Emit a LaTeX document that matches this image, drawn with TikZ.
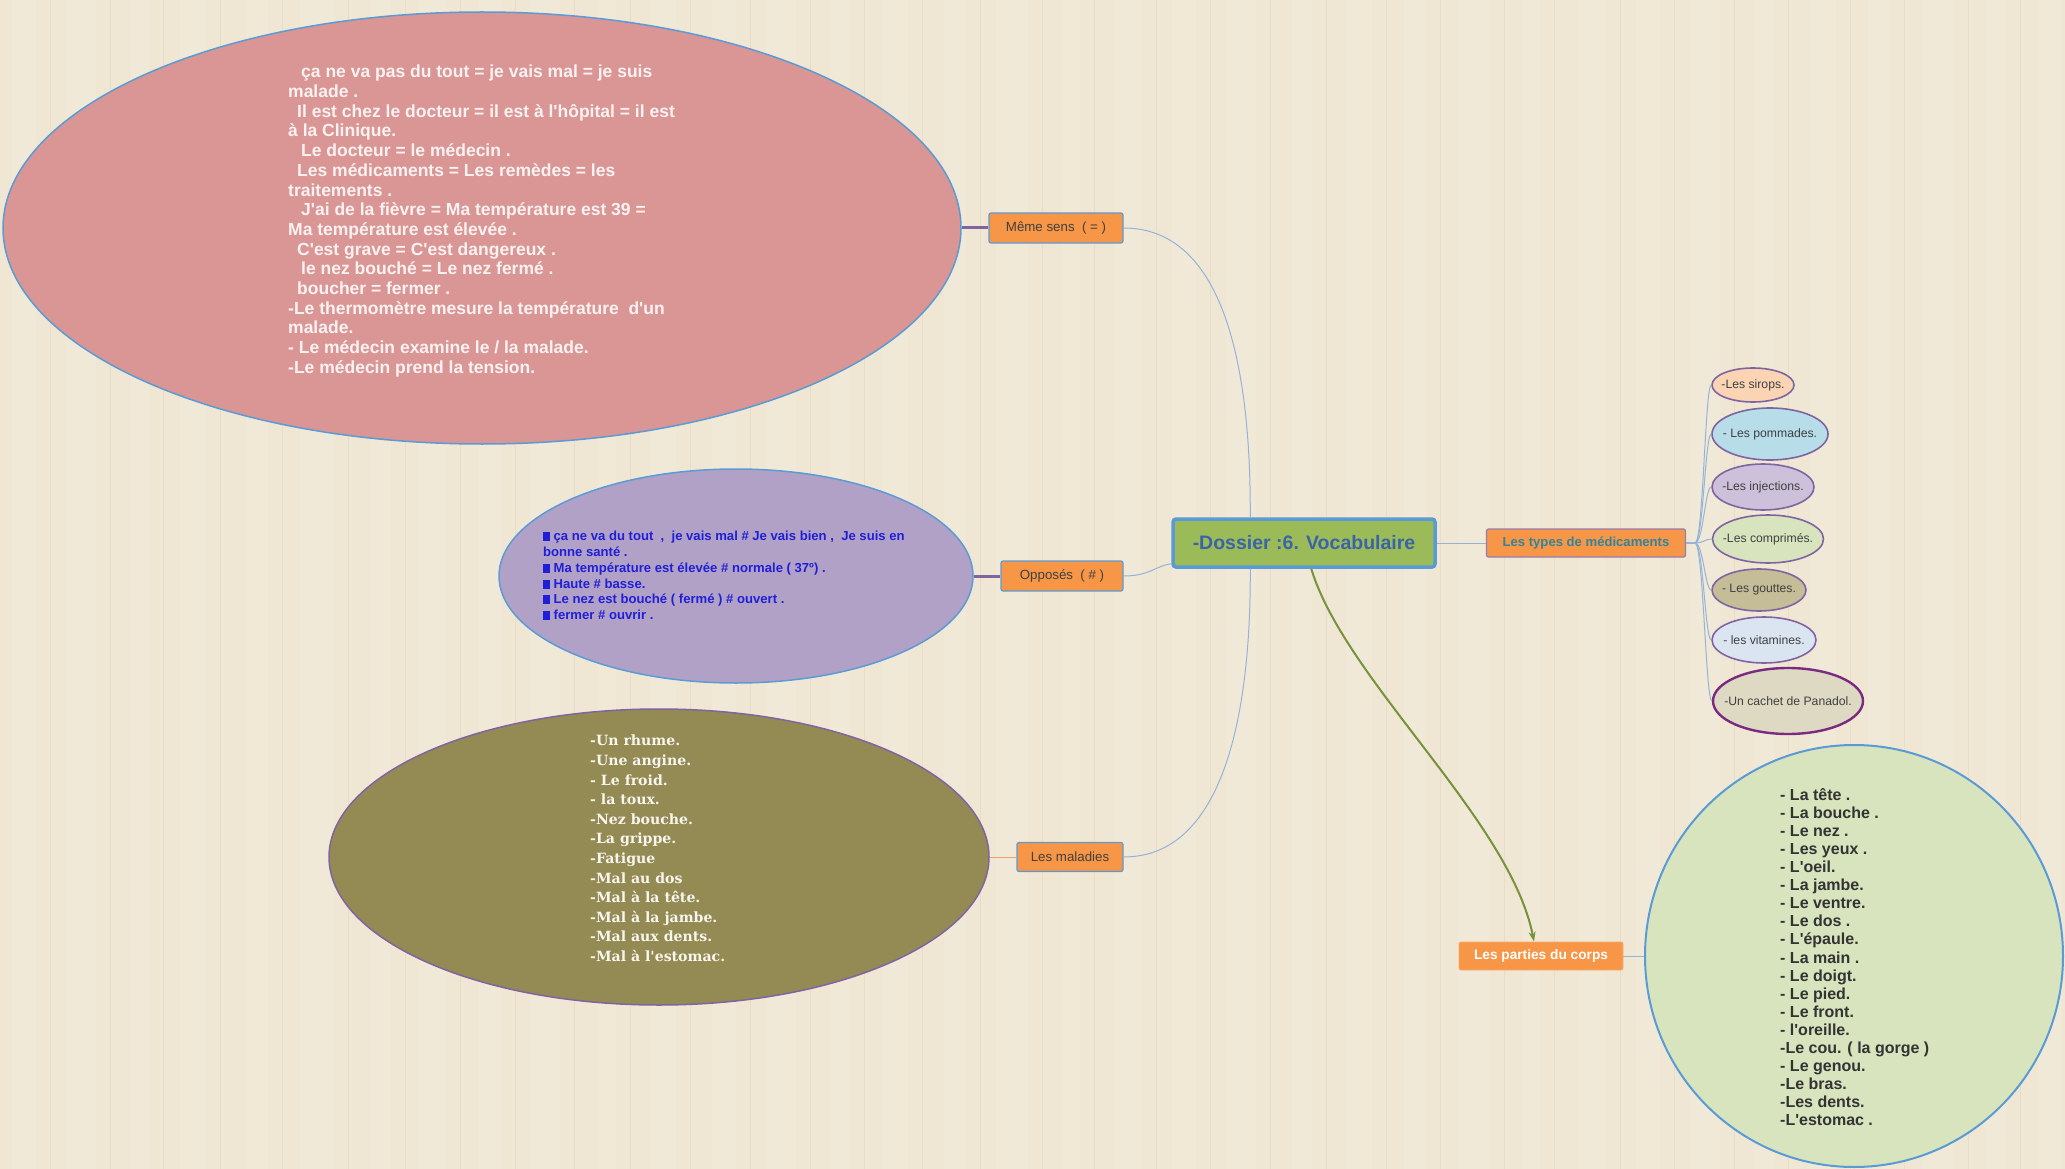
\documentclass[tikz,border=0pt]{standalone}
\usepackage{fontspec}
\newfontfamily\ls{Liberation Sans}
\newfontfamily\dserif{DejaVu Serif}
\usetikzlibrary{shapes.geometric,arrows.meta}
\definecolor{bg}{HTML}{EFE7D4}
\definecolor{bgband}{HTML}{F1E9D8}
\definecolor{bgline}{HTML}{E8DEC8}
\definecolor{pinkfill}{HTML}{D99694}
\definecolor{purpfill}{HTML}{B2A1C7}
\definecolor{olivefill}{HTML}{948A54}
\definecolor{greenfill}{HTML}{D7E4BD}
\definecolor{orangefill}{HTML}{F79646}
\definecolor{bordblue}{HTML}{5B9BD5}
\definecolor{bordpurp}{HTML}{8064A2}
\definecolor{linkblue}{HTML}{95B3D7}
\definecolor{linkorange}{HTML}{F0A070}
\definecolor{centfill}{HTML}{9BBB59}
\definecolor{centtext}{HTML}{3A64A6}
\definecolor{typetext}{HTML}{31849B}
\definecolor{labtext}{HTML}{404040}
\definecolor{bluetext}{HTML}{1F1FD8}
\definecolor{greenarrow}{HTML}{76923C}
\definecolor{panbord}{HTML}{7A2A80}
\definecolor{fsir}{HTML}{FBD4B4}
\definecolor{fpom}{HTML}{B7DDE8}
\definecolor{finj}{HTML}{CCC0DA}
\definecolor{fcom}{HTML}{D7E4BD}
\definecolor{fgou}{HTML}{C4BD97}
\definecolor{fvit}{HTML}{DBE5F1}
\definecolor{fpan}{HTML}{DDD9C3}
\newcommand\sqb{\rule[-0.5pt]{6.5pt}{9pt}\hspace{4pt}}
\tikzset{
  bigell/.style={ellipse, inner sep=0pt, line width=1.5pt},
  labbox/.style={rectangle, rounded corners=2pt, fill=orangefill, draw=bordblue, line width=1.2pt,
     text=labtext, font=\ls\fontsize{13.3}{15}\selectfont, minimum height=30pt, inner sep=0pt},
  medell/.style={ellipse, draw=bordpurp, line width=1.6pt, inner sep=0pt},
  medtxt/.style={inner sep=0pt, text=labtext, font=\ls\fontsize{12.2}{14}\selectfont},
  purpline/.style={draw=bordpurp, line width=3pt},
  blueline/.style={draw=linkblue, line width=1pt},
  bodytext/.style={anchor=north west, inner sep=0pt, align=left}
}
\begin{document}
\begin{tikzpicture}[x=1pt,y=-1pt]
\fill[bg] (0,0) rectangle (2065,1169);
\useasboundingbox (0,0) rectangle (2065,1169);
\foreach \x/\w in {12/24,66/30,131/18,180/26,246/22,300/34,371/20,418/28,479/22,530/30,598/18,650/26,712/24,766/30,830/20,882/26,944/22,996/32,1062/18,1114/28,1172/24,1226/30,1292/20,1346/26,1404/22,1458/32,1522/18,1578/28,1636/24,1690/30,1754/20,1810/26,1868/22,1922/32,1986/20,2038/24}{
  \fill[bgband] (\x,0) rectangle (\x+\w,1169);
  \draw[bgline, line width=1pt] (\x+\w+14,0) -- (\x+\w+14,1169);
}

% big ellipses
\node[bigell, draw=bordblue, fill=pinkfill, minimum width=958pt, minimum height=432pt] (pink) at (482,228) {};
\node[bigell, draw=bordblue, fill=purpfill, minimum width=474pt, minimum height=214pt] (purp) at (736,576) {};
\node[bigell, draw=bordpurp, fill=olivefill, minimum width=660pt, minimum height=296pt] (olive) at (659,857) {};
\node[bigell, draw=bordblue, line width=2pt, fill=greenfill, minimum width=418pt, minimum height=422pt] (circ) at (1854,956) {};

% texts in ellipses
\node[bodytext, text={rgb,255:red,252;green,242;blue,242}, font=\ls\bfseries\fontsize{17.5}{19.7}\selectfont] (pinktxt) at (288,65) {%
\hspace{13pt}ça ne va pas du tout = je vais mal = je suis\\
malade .\\
\hspace{9pt}Il est chez le docteur = il est à l'hôpital = il est\\
à la Clinique.\\
\hspace{13pt}Le docteur = le médecin .\\
\hspace{9pt}Les médicaments = Les remèdes = les\\
traitements .\\
\hspace{13pt}J'ai de la fièvre = Ma température est 39 =\\
Ma température est élevée .\\
\hspace{9pt}C'est grave = C'est dangereux .\\
\hspace{13pt}le nez bouché = Le nez fermé .\\
\hspace{9pt}boucher = fermer .\\
-Le thermomètre mesure la température\ \ d'un\\
malade.\\
- Le médecin examine le / la malade.\\
-Le médecin prend la tension.};

\node[bodytext, text=bluetext, font=\ls\bfseries\fontsize{13.1}{15.8}\selectfont] (purptxt) at (543,531) {%
\sqb ça ne va du tout\ \ ,\ \ je vais mal \# Je vais bien ,\ \ Je suis en\\
bonne santé .\\
\sqb Ma température est élevée \# normale ( 37º) .\\
\sqb Haute \# basse.\\
\sqb Le nez est bouché ( fermé ) \# ouvert .\\
\sqb fermer \# ouvrir .};

\node[bodytext, text={rgb,255:red,248;green,246;blue,238}, font=\dserif\bfseries\fontsize{14.1}{19.6}\selectfont] (olivetxt) at (590,735) {%
-Un rhume.\\
-Une angine.\\
- Le froid.\\
- la toux.\\
-Nez bouche.\\
-La grippe.\\
-Fatigue\\
-Mal au dos\\
-Mal à la tête.\\
-Mal à la jambe.\\
-Mal aux dents.\\
-Mal à l'estomac.};

\node[bodytext, text={rgb,255:red,51;green,51;blue,51}, font=\ls\bfseries\fontsize{16}{18.1}\selectfont] (circtxt) at (1780,788) {%
- La tête .\\
- La bouche .\\
- Le nez .\\
- Les yeux .\\
- L'oeil.\\
- La jambe.\\
- Le ventre.\\
- Le dos .\\
- L'épaule.\\
- La main .\\
- Le doigt.\\
- Le pied.\\
- Le front.\\
- l'oreille.\\
-Le cou. ( la gorge )\\
- Le genou.\\
-Le bras.\\
-Les dents.\\
-L'estomac .};

% label boxes
\node[labbox, minimum width=134pt] (meme) at (1056,228) {Même sens\ \ ( = )};
\node[labbox, minimum width=122pt] (opp) at (1062,576) {Opposés\ \ ( \# )};
\node[labbox, minimum width=106pt, minimum height=29pt] (mal) at (1070,857) {Les maladies};
\node[rectangle, rounded corners=3pt, fill=centfill, draw=bordblue, line width=3.5pt, minimum width=262pt, minimum height=48pt,
   text=centtext, font=\ls\bfseries\fontsize{19.5}{22}\selectfont] (central) at (1304,543) {-Dossier :6. Vocabulaire};
\node[rectangle, rounded corners=2pt, fill=orangefill, draw={rgb,255:red,150;green,125;blue,175}, line width=1.2pt,
   minimum width=199pt, minimum height=28pt, inner sep=0pt, text=typetext, font=\ls\bfseries\fontsize{13.1}{15}\selectfont] (types) at (1586,543) {Les types de médicaments};
\node[rectangle, rounded corners=2pt, fill=orangefill, draw={rgb,255:red,250;green,170;blue,110}, line width=0.8pt,
   minimum width=164pt, minimum height=28pt, inner sep=0pt, text=white, font=\ls\bfseries\fontsize{13.7}{15}\selectfont] (parties) at (1541,956) {Les parties du corps};

% medicament ellipses
\node[medell, fill=fsir, minimum width=82pt, minimum height=34pt, label={[medtxt]center:-Les sirops.}] (m1) at (1753,385) {};
\node[medell, fill=fpom, minimum width=116pt, minimum height=52pt, label={[medtxt]center:- Les pommades.}] (m2) at (1770,434) {};
\node[medell, fill=finj, minimum width=102pt, minimum height=46pt, label={[medtxt]center:-Les injections.}] (m3) at (1763,487) {};
\node[medell, fill=fcom, minimum width=111pt, minimum height=48pt, label={[medtxt]center:-Les comprimés.}] (m4) at (1768,539) {};
\node[medell, fill=fgou, minimum width=94pt, minimum height=42pt, label={[medtxt]center:- Les gouttes.}] (m5) at (1759,590) {};
\node[medell, fill=fvit, minimum width=104pt, minimum height=46pt, label={[medtxt]center:- les vitamines.}] (m6) at (1764,640) {};
\node[medell, fill=fpan, draw=panbord, line width=2.4pt, minimum width=150pt, minimum height=66pt, label={[medtxt]center:-Un cachet de Panadol.}] (m7) at (1788,701) {};

% connectors
\draw[purpline] (pink.east) -- (meme.west);
\draw[purpline] (purp.east) -- (opp.west);
\draw[draw=linkorange, line width=1pt] (olive.east) -- (mal.west);
\draw[blueline] (meme.east) .. controls (1225,228) and (1251,370) .. ([xshift=79pt]central.north west);
\draw[blueline] (opp.east) .. controls (1150,576) and (1155,566) .. ([yshift=5pt]central.south west);
\draw[blueline] (mal.east) .. controls (1225,857) and (1251,710) .. ([xshift=79pt]central.south west);
\draw[blueline] (central.east) -- (types.west);
\draw[blueline] (parties.east) -- (circ.west);
\foreach \m in {m1,m2,m3,m4,m5,m6,m7}{
  \draw[blueline] (types.east) -- ++(9,0) .. controls +(8,0) and +(-6,0) .. (\m.west);
}
\draw[draw=greenarrow, line width=2pt, -{Stealth[length=10pt,width=7pt]}]
  ([xshift=140pt]central.south west) .. controls (1345,680) and (1510,820) .. ([xshift=-7pt]parties.north);
\end{tikzpicture}
\end{document}
